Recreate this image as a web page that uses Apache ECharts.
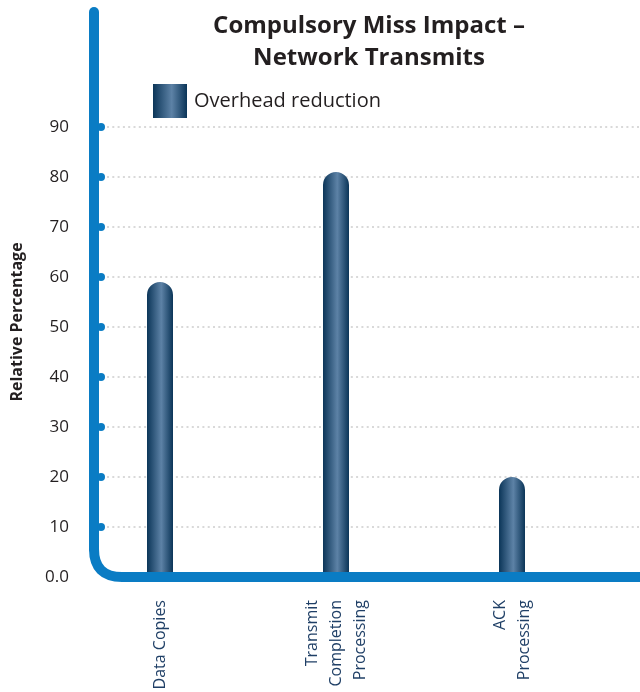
<!DOCTYPE html>
<html>
<head>
<meta charset="utf-8">
<script src="https://cdn.jsdelivr.net/npm/echarts@6/dist/echarts.min.js"></script>
<style>
	html,body{margin:0;padding:0;background:#fff;}
	#chart{width:640px;height:692px;}
</style>
</head>
<body>
<div id="chart"></div>
<script>
	// 数据
	var categories = ['Data Copies', 'Transmit\nCompletion\nProcessing', 'ACK\nProcessing'];
	var overheadReduction = [59, 81, 20];
	var yTicks = [10, 20, 30, 40, 50, 60, 70, 80, 90];

	var AXIS_BLUE = '#0a7cc4';
	var TEXT = '#231f20';
	var FONT = '"Open Sans", sans-serif';

	var barColor = new echarts.graphic.LinearGradient(0, 0, 1, 0, [
		{offset: 0, color: '#0b3558'},
		{offset: 0.55, color: '#5d82a6'},
		{offset: 1, color: '#0b3558'}
	]);

	var chart = echarts.init(document.getElementById('chart'));
	var option = {
		animation: false,
		title: {
			text: 'Compulsory Miss Impact –\nNetwork Transmits',
			left: 364,
			textAlign: 'center',
			top: 5,
			textStyle: {fontFamily: FONT, fontSize: 24, fontWeight: 'bold', color: TEXT, lineHeight: 32}
		},
		legend: {
			left: 148,
			top: 79,
			icon: 'rect',
			itemWidth: 34,
			itemHeight: 34,
			textStyle: {fontFamily: FONT, fontSize: 20, color: TEXT, padding: [0, 0, 0, 2]},
			data: ['Overhead reduction']
		},
		grid: [
			{left: 72, right: 40, top: 127, bottom: 115, outerBoundsMode: 'none'},
			{left: 107, right: 0, top: 127, bottom: 115, outerBoundsMode: 'none'}
		],
		xAxis: [{
			type: 'category',
			gridIndex: 0,
			data: categories,
			axisLine: {show: false},
			axisTick: {show: false},
			axisLabel: {
				rotate: 90,
				margin: 23,
				fontFamily: FONT,
				fontSize: 16,
				lineHeight: 24,
				color: '#1f3f66'
			}
		}, {
			type: 'value',
			gridIndex: 1,
			show: false
		}],
		yAxis: [{
			type: 'value',
			gridIndex: 0,
			min: 0,
			max: 90,
			interval: 10,
			axisLine: {show: false},
			axisTick: {show: false},
			splitLine: {show: false},
			axisLabel: {
				margin: 3,
				fontFamily: FONT,
				fontSize: 17,
				color: TEXT,
				formatter: function(v){ return v === 0 ? '0.0' : v; }
			}
		}, {
			type: 'value',
			gridIndex: 1,
			min: 0,
			max: 90,
			interval: 10,
			axisLine: {show: false},
			axisTick: {show: false},
			axisLabel: {show: false},
			splitLine: {lineStyle: {color: '#d9d9d9', type: [2, 3.3], width: 2}}
		}],
		series: [{
			name: 'Overhead reduction',
			type: 'bar',
			xAxisIndex: 0,
			yAxisIndex: 0,
			barWidth: 26,
			data: overheadReduction,
			itemStyle: {color: barColor, borderRadius: [13, 13, 0, 0]}
		}]
	};
	chart.setOption(option);

	// 曲线坐标轴 + 刻度圆点 + 纵轴名称
	var y0 = chart.convertToPixel({yAxisIndex: 0}, 0);
	var ax = 94, r = 28;
	var axisStyle = {stroke: AXIS_BLUE, lineWidth: 10, lineCap: 'round'};
	var elements = [{
		type: 'line', z: 100,
		shape: {x1: ax, y1: 12, x2: ax, y2: y0 - r},
		style: axisStyle
	}, {
		type: 'bezierCurve', z: 100,
		shape: {x1: ax, y1: y0 - r, cpx1: ax, cpy1: y0, x2: ax + r, y2: y0},
		style: {stroke: AXIS_BLUE, lineWidth: 10, fill: null}
	}, {
		type: 'line', z: 100,
		shape: {x1: ax + r, y1: y0, x2: 645, y2: y0},
		style: {stroke: AXIS_BLUE, lineWidth: 10}
	}, {
		type: 'text', z: 100,
		x: 17, y: 322,
		rotation: Math.PI / 2,
		style: {
			text: 'Relative Percentage',
			fill: TEXT,
			font: 'bold 16px ' + FONT,
			align: 'center',
			verticalAlign: 'middle'
		}
	}];
	for(var i = 0;i < yTicks.length;i++){
		elements.push({
			type: 'circle',
			z: 101,
			shape: {cx: 101, cy: chart.convertToPixel({yAxisIndex: 0}, yTicks[i]), r: 4},
			style: {fill: AXIS_BLUE}
		});
	}
	chart.setOption({graphic: elements});
</script>
</body>
</html>
